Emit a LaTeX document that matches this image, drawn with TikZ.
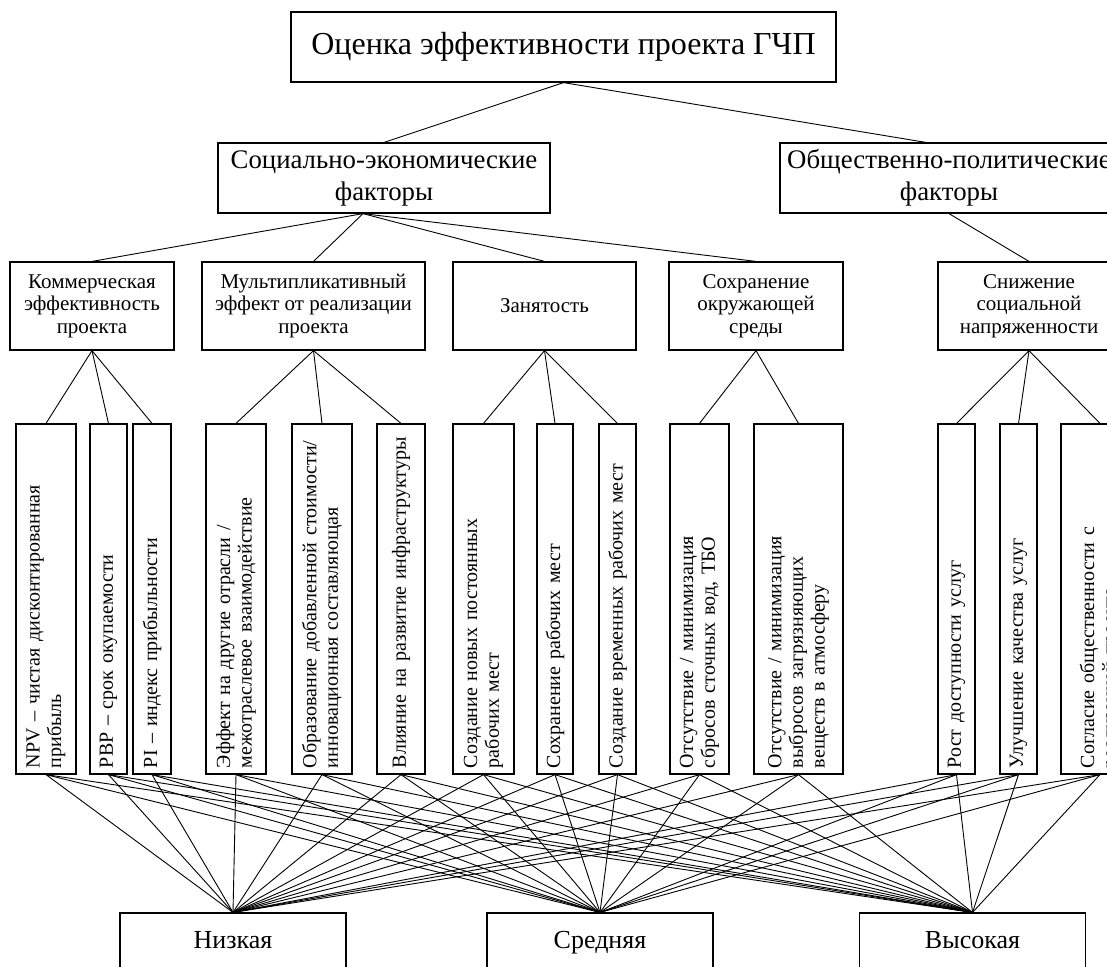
\documentclass[tikz,border=0pt]{standalone}
\usepackage{fontspec}
\setmainfont{Liberation Serif}
\usepackage{tikz}

\begin{document}
\begin{tikzpicture}[x=0.5pt, y=-0.5pt,
	box/.style={shape=rectangle, draw=black, line width=0.6pt, inner sep=2pt},
	lvl/.style={box, minimum height=44pt, align=center, font=\fontsize{10.5}{11.3}\selectfont},
	vbox/.style={box, rotate=90, minimum width=175pt, text width=169pt, inner xsep=3pt, align=left, font=\fontsize{10}{10.8}\selectfont},
	grade/.style={box, minimum width=113pt, minimum height=30pt, text height=1.6ex, text depth=0.4ex, font=\fontsize{13}{15}\selectfont},
	link/.style={-, line width=0.45pt}]

	\useasboundingbox (0,0) rectangle (1107,966);
	\clip (0,0) rectangle (1107,966);

	\node[box, minimum width=272.5pt, minimum height=35pt, font=\fontsize{16}{18}\selectfont] (top) at (563.5, 47) {Оценка эффективности проекта ГЧП};

	\node[box, minimum width=166pt, minimum height=35pt, align=center, font=\fontsize{13.4}{16}\selectfont] (soc) at (384, 178) {Социально-экономические\\факторы};
	\node[box, minimum width=169pt, minimum height=35pt, align=center, font=\fontsize{13.4}{16}\selectfont] (obsh) at (949, 178) {Общественно-политические\\факторы};

	\node[lvl, minimum width=82pt] (komm) at (92, 306) {Коммерческая\\эффективность\\проекта};
	\node[lvl, minimum width=111.5pt] (mult) at (313.5, 306) {Мультипликативный\\эффект от реализации\\проекта};
	\node[lvl, minimum width=91.5pt] (zan) at (544.5, 306) {Занятость};
	\node[lvl, minimum width=87pt] (okr) at (756, 306) {Сохранение\\окружающей\\среды};
	\node[lvl, minimum width=91pt] (snizh) at (1029, 306) {Снижение\\социальной\\напряженности};

	\node[vbox, minimum height=30pt] (npv) at (46, 599) {NPV – чистая дисконтированная\\прибыль};
	\node[vbox, minimum height=18.5pt] (pbp) at (108.5, 599) {PBP – срок окупаемости};
	\node[vbox, minimum height=19pt] (pi) at (152, 599) {PI – индекс прибыльности};
	\node[vbox, minimum height=30pt] (eff) at (236, 599) {\makebox[135pt][s]{Эффект на другие отрасли /}\\межотраслевое взаимодействие};
	\node[vbox, minimum height=30pt] (obr) at (322, 599) {Образование добавленной стоимости/\\инновационная составляющая};
	\node[vbox, minimum height=24pt] (vliy) at (401, 599) {Влияние на развитие инфраструктуры};
	\node[vbox, minimum height=30.5pt] (nov) at (483.5, 599) {Создание новых постоянных\\рабочих мест};
	\node[vbox, minimum height=18pt] (sohr) at (555, 599) {Сохранение рабочих мест};
	\node[vbox, minimum height=18.5pt] (vrem) at (617.5, 599) {Создание временных рабочих мест};
	\node[vbox, minimum height=29.5pt] (sbros) at (699.5, 599) {Отсутствие / минимизация\\сбросов сточных вод, ТБО};
	\node[vbox, minimum height=44.5pt] (vybr) at (798.5, 599) {Отсутствие / минимизация\\\makebox[111pt][s]{выбросов загрязняющих}\\веществ в атмосферу};
	\node[vbox, minimum height=18.5pt] (rost) at (956.5, 599) {Рост доступности услуг};
	\node[vbox, minimum height=18.5pt] (uluch) at (1018.5, 599) {Улучшение качества услуг};
	\node[vbox, minimum height=39pt] (sogl) at (1100, 599) {Согласие общественности с\\реализацией проекта};

	\node[grade] (nizk) at (233, 943) {Низкая};
	\node[grade] (sred) at (600, 943) {Средняя};
	\node[grade] (vys) at (972.5, 943) {Высокая};

	\path[link] (top.south) edge (soc.north);
	\path[link] (top.south) edge ([xshift=-11.5pt]obsh.north);

	\path[link] ([xshift=-10.5pt]soc.south) edge (komm.north);
	\path[link] ([xshift=-10.5pt]soc.south) edge (mult.north);
	\path[link] ([xshift=-10.5pt]soc.south) edge (zan.north);
	\path[link] ([xshift=-10.5pt]soc.south) edge (okr.north);
	\path[link] (obsh.south) edge (snizh.north);

	\path[link] (komm.south) edge (npv.east);
	\path[link] (komm.south) edge (pbp.east);
	\path[link] (komm.south) edge (pi.east);
	\path[link] (mult.south) edge (eff.east);
	\path[link] (mult.south) edge (obr.east);
	\path[link] (mult.south) edge (vliy.east);
	\path[link] (zan.south) edge (nov.east);
	\path[link] (zan.south) edge (sohr.east);
	\path[link] (zan.south) edge (vrem.east);
	\path[link] (okr.south) edge (sbros.east);
	\path[link] (okr.south) edge (vybr.east);
	\path[link] (snizh.south) edge (rost.east);
	\path[link] (snizh.south) edge (uluch.east);
	\path[link] (snizh.south) edge (sogl.east);

	\path[link] (npv.west) edge (nizk.north);
	\path[link] (npv.west) edge (sred.north);
	\path[link] (npv.west) edge (vys.north);
	\path[link] (pbp.west) edge (nizk.north);
	\path[link] (pbp.west) edge (sred.north);
	\path[link] (pbp.west) edge (vys.north);
	\path[link] (pi.west) edge (nizk.north);
	\path[link] (pi.west) edge (sred.north);
	\path[link] (pi.west) edge (vys.north);
	\path[link] (eff.west) edge (nizk.north);
	\path[link] (eff.west) edge (sred.north);
	\path[link] (eff.west) edge (vys.north);
	\path[link] (obr.west) edge (nizk.north);
	\path[link] (obr.west) edge (sred.north);
	\path[link] (obr.west) edge (vys.north);
	\path[link] (vliy.west) edge (nizk.north);
	\path[link] (vliy.west) edge (sred.north);
	\path[link] (vliy.west) edge (vys.north);
	\path[link] (nov.west) edge (nizk.north);
	\path[link] (nov.west) edge (sred.north);
	\path[link] (nov.west) edge (vys.north);
	\path[link] (sohr.west) edge (nizk.north);
	\path[link] (sohr.west) edge (sred.north);
	\path[link] (sohr.west) edge (vys.north);
	\path[link] (vrem.west) edge (nizk.north);
	\path[link] (vrem.west) edge (sred.north);
	\path[link] (vrem.west) edge (vys.north);
	\path[link] (sbros.west) edge (nizk.north);
	\path[link] (sbros.west) edge (sred.north);
	\path[link] (sbros.west) edge (vys.north);
	\path[link] (vybr.west) edge (nizk.north);
	\path[link] (vybr.west) edge (sred.north);
	\path[link] (vybr.west) edge (vys.north);
	\path[link] (rost.west) edge (nizk.north);
	\path[link] (rost.west) edge (sred.north);
	\path[link] (rost.west) edge (vys.north);
	\path[link] (uluch.west) edge (nizk.north);
	\path[link] (uluch.west) edge (sred.north);
	\path[link] (uluch.west) edge (vys.north);
	\path[link] (sogl.west) edge (nizk.north);
	\path[link] (sogl.west) edge (sred.north);
	\path[link] (sogl.west) edge (vys.north);

\end{tikzpicture}
\end{document}
